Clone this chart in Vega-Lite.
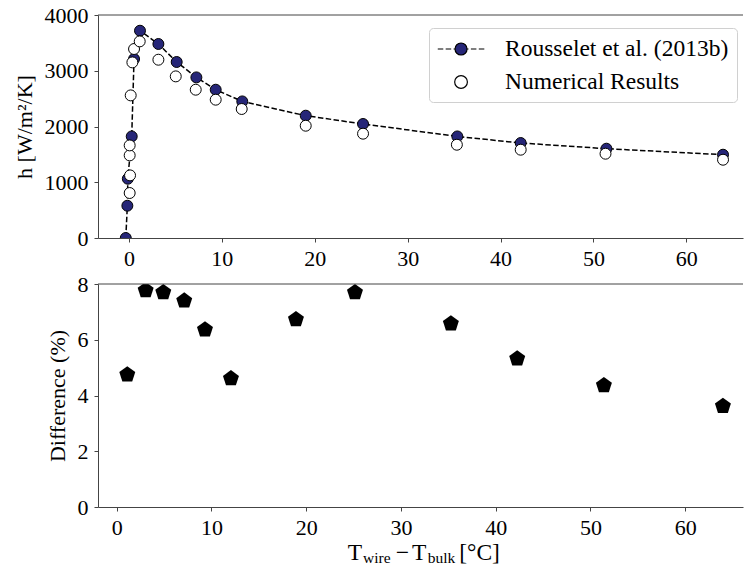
{
  "$schema": "https://vega.github.io/schema/vega-lite/v6.json",
  "background": "white",
  "padding": {"left": 13, "top": 4, "right": 0, "bottom": 0},
  "spacing": 4,
  "config": {
    "font": "Liberation Serif",
    "view": {"stroke": null},
    "text": {"font": "Liberation Serif"},
    "axis": {
      "labelFont": "Liberation Serif",
      "labelFontSize": 22,
      "labelColor": "black",
      "titleFont": "Liberation Serif",
      "titleFontSize": 22,
      "titleFontWeight": "normal",
      "titleColor": "black",
      "domainColor": "#444444",
      "domainWidth": 1,
      "tickColor": "#444444",
      "tickSize": 4,
      "tickWidth": 1,
      "grid": false,
      "labelPadding": 6,
      "titlePadding": 8
    }
  },
  "datasets": {
    "heat": [
      {"series": "Rousselet et al. (2013b)", "dT": -0.34, "h": 0},
      {"series": "Rousselet et al. (2013b)", "dT": -0.17, "h": 579},
      {"series": "Rousselet et al. (2013b)", "dT": -0.12, "h": 1063},
      {"series": "Rousselet et al. (2013b)", "dT": 0.3, "h": 1822},
      {"series": "Rousselet et al. (2013b)", "dT": 0.55, "h": 3211},
      {"series": "Rousselet et al. (2013b)", "dT": 1.19, "h": 3718},
      {"series": "Rousselet et al. (2013b)", "dT": 3.17, "h": 3480},
      {"series": "Rousselet et al. (2013b)", "dT": 5.14, "h": 3157},
      {"series": "Rousselet et al. (2013b)", "dT": 7.26, "h": 2881},
      {"series": "Rousselet et al. (2013b)", "dT": 9.34, "h": 2660},
      {"series": "Rousselet et al. (2013b)", "dT": 12.2, "h": 2450},
      {"series": "Rousselet et al. (2013b)", "dT": 19.03, "h": 2194},
      {"series": "Rousselet et al. (2013b)", "dT": 25.2, "h": 2045},
      {"series": "Rousselet et al. (2013b)", "dT": 35.35, "h": 1822},
      {"series": "Rousselet et al. (2013b)", "dT": 42.17, "h": 1704},
      {"series": "Rousselet et al. (2013b)", "dT": 51.4, "h": 1602},
      {"series": "Rousselet et al. (2013b)", "dT": 63.95, "h": 1494},
      {"series": "Numerical Results", "dT": 0.08, "h": 807},
      {"series": "Numerical Results", "dT": 0.12, "h": 1123},
      {"series": "Numerical Results", "dT": 0.08, "h": 1482},
      {"series": "Numerical Results", "dT": 0.08, "h": 1661},
      {"series": "Numerical Results", "dT": 0.19, "h": 2558},
      {"series": "Numerical Results", "dT": 0.37, "h": 3150},
      {"series": "Numerical Results", "dT": 0.55, "h": 3390},
      {"series": "Numerical Results", "dT": 1.16, "h": 3527},
      {"series": "Numerical Results", "dT": 3.17, "h": 3198},
      {"series": "Numerical Results", "dT": 5.04, "h": 2899},
      {"series": "Numerical Results", "dT": 7.19, "h": 2660},
      {"series": "Numerical Results", "dT": 9.34, "h": 2481},
      {"series": "Numerical Results", "dT": 12.14, "h": 2314},
      {"series": "Numerical Results", "dT": 19.03, "h": 2014},
      {"series": "Numerical Results", "dT": 25.2, "h": 1871},
      {"series": "Numerical Results", "dT": 35.3, "h": 1673},
      {"series": "Numerical Results", "dT": 42.17, "h": 1584},
      {"series": "Numerical Results", "dT": 51.3, "h": 1512},
      {"series": "Numerical Results", "dT": 63.95, "h": 1404}
    ],
    "diff": [
      {"dT": 1.12, "diff": 4.75},
      {"dT": 3.06, "diff": 7.77},
      {"dT": 4.92, "diff": 7.70},
      {"dT": 7.13, "diff": 7.40},
      {"dT": 9.32, "diff": 6.36},
      {"dT": 12.06, "diff": 4.61},
      {"dT": 18.92, "diff": 6.73},
      {"dT": 25.15, "diff": 7.70},
      {"dT": 35.27, "diff": 6.58},
      {"dT": 42.27, "diff": 5.32},
      {"dT": 51.42, "diff": 4.36},
      {"dT": 63.98, "diff": 3.62}
    ]
  },
  "vconcat": [
    {
      "width": 645,
      "height": 223,
      "layer": [
        {
          "data": {"name": "heat"},
          "transform": [{"filter": "datum.series === 'Rousselet et al. (2013b)'"}],
          "mark": {"type": "line", "stroke": "black", "strokeWidth": 1.5, "strokeDash": [5.5, 2.4], "clip": true},
          "encoding": {
            "x": {
              "field": "dT", "type": "quantitative",
              "scale": {"domain": [-3.33, 66.1], "nice": false, "zero": false},
              "axis": {"values": [0, 10, 20, 30, 40, 50, 60], "format": "d", "title": null, "labelFont": "Liberation Serif", "labelFontSize": 22}
            },
            "y": {
              "field": "h", "type": "quantitative",
              "scale": {"domain": [0, 4000], "nice": false},
              "axis": {"values": [0, 1000, 2000, 3000, 4000], "format": "d", "title": "h [W/m²/K]", "labelFont": "Liberation Serif", "labelFontSize": 22, "titleFont": "Liberation Serif", "titleFontSize": 22}
            }
          }
        },
        {
          "data": {"name": "heat"},
          "mark": {"type": "point", "filled": true, "shape": "circle", "size": 120, "stroke": "black", "strokeWidth": 1, "opacity": 1, "clip": true},
          "encoding": {
            "x": {"field": "dT", "type": "quantitative"},
            "y": {"field": "h", "type": "quantitative"},
            "fill": {
              "field": "series", "type": "nominal",
              "scale": {"domain": ["Rousselet et al. (2013b)", "Numerical Results"], "range": ["#262678", "white"]},
              "legend": {
                "title": null,
                "orient": "none",
                "legendX": 331,
                "legendY": 13,
                "direction": "vertical",
                "labelFont": "Liberation Serif",
                "labelFontSize": 23.5,
                "labelColor": "black",
                "labelLimit": 400,
                "labelOffset": 42,
                "padding": 8,
                "rowPadding": 8,
                "symbolSize": 576,
                "symbolStrokeColor": "black",
                "symbolStrokeWidth": 1.2,
                "symbolOpacity": 1,
                "fillColor": "rgba(255,255,255,0.8)",
                "strokeColor": "#d0d0d0",
                "cornerRadius": 4,
                "encode": {
                  "symbols": {
                    "update": {
                      "shape": [
                        {"test": "datum.value === 'Rousselet et al. (2013b)'", "value": "M-1.02,0H-0.56M-0.36,0H0.1M0.3,0H0.42M1.42,0H1.54M1.74,0H2.2M2.4,0H2.86M0.42,0A0.5,0.5,0,1,1,1.42,0A0.5,0.5,0,1,1,0.42,0Z"},
                        {"value": "M0.39,0A0.53,0.53,0,1,1,1.45,0A0.53,0.53,0,1,1,0.39,0Z"}
                      ],
                      "stroke": {"value": "black"},
                      "strokeWidth": {"value": 1.2}
                    }
                  }
                }
              }
            }
          }
        },
        {
          "data": {"values": [{}]},
          "mark": {"type": "rule", "color": "#444444", "strokeWidth": 1},
          "encoding": {"y": {"datum": 4000}}
        }
      ]
    },
    {
      "width": 645,
      "height": 223,
      "layer": [
        {
          "data": {"name": "diff"},
          "mark": {"type": "point", "filled": true, "shape": "M0,-1L0.951,-0.309L0.588,0.809L-0.588,0.809L-0.951,-0.309Z", "size": 282, "color": "black", "opacity": 1, "clip": true},
          "encoding": {
            "x": {
              "field": "dT", "type": "quantitative",
              "scale": {"domain": [-1.97, 66.1], "nice": false, "zero": false},
              "axis": {"values": [0, 10, 20, 30, 40, 50, 60], "format": "d", "title": null, "labelFont": "Liberation Serif", "labelFontSize": 22}
            },
            "y": {
              "field": "diff", "type": "quantitative",
              "scale": {"domain": [0, 8], "nice": false},
              "axis": {"values": [0, 2, 4, 6, 8], "format": "d", "title": "Difference (%)", "labelFont": "Liberation Serif", "labelFontSize": 22, "titleFont": "Liberation Serif", "titleFontSize": 22}
            }
          }
        },
        {
          "data": {"values": [{}]},
          "mark": {"type": "rule", "color": "#444444", "strokeWidth": 1},
          "encoding": {"y": {"datum": 8}}
        },
        {
          "data": {"values": [{}]},
          "mark": {"type": "text", "text": "T", "font": "Liberation Serif", "fontSize": 23.5, "align": "left", "baseline": "alphabetic", "color": "black"},
          "encoding": {"x": {"datum": 24.4}, "y": {"datum": -1.91}}
        },
        {
          "data": {"values": [{}]},
          "mark": {"type": "text", "text": "wire", "font": "Liberation Serif", "fontSize": 15.5, "align": "left", "baseline": "alphabetic", "dy": 3, "color": "black"},
          "encoding": {"x": {"datum": 26.0}, "y": {"datum": -1.91}}
        },
        {
          "data": {"values": [{}]},
          "mark": {"type": "text", "text": "−", "font": "Liberation Serif", "fontSize": 23.5, "align": "left", "baseline": "alphabetic", "color": "black"},
          "encoding": {"x": {"datum": 29.45}, "y": {"datum": -1.91}}
        },
        {
          "data": {"values": [{}]},
          "mark": {"type": "text", "text": "T", "font": "Liberation Serif", "fontSize": 23.5, "align": "left", "baseline": "alphabetic", "color": "black"},
          "encoding": {"x": {"datum": 31.16}, "y": {"datum": -1.91}}
        },
        {
          "data": {"values": [{}]},
          "mark": {"type": "text", "text": "bulk", "font": "Liberation Serif", "fontSize": 15.5, "align": "left", "baseline": "alphabetic", "dy": 3, "color": "black"},
          "encoding": {"x": {"datum": 32.82}, "y": {"datum": -1.91}}
        },
        {
          "data": {"values": [{}]},
          "mark": {"type": "text", "text": "[°C]", "font": "Liberation Serif", "fontSize": 23.5, "align": "left", "baseline": "alphabetic", "color": "black"},
          "encoding": {"x": {"datum": 36.15}, "y": {"datum": -1.91}}
        }
      ]
    }
  ]
}
